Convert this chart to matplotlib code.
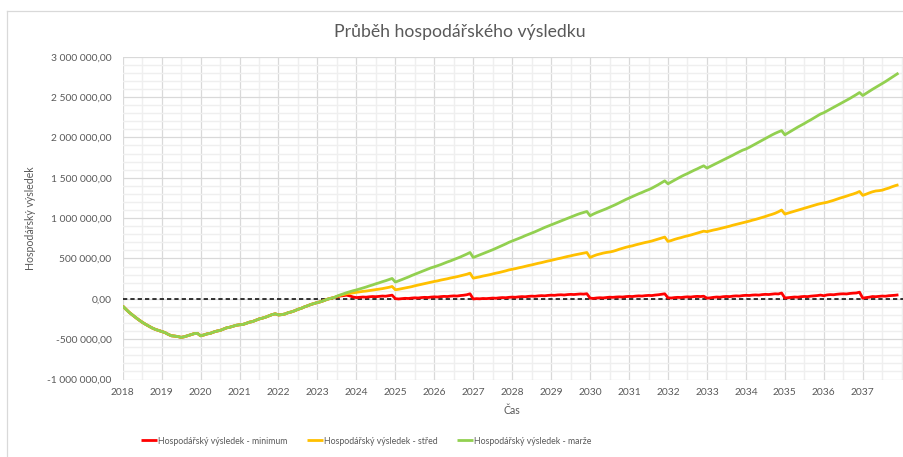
import numpy as np
import matplotlib.pyplot as plt
import matplotlib.ticker as mticker
from matplotlib.lines import Line2D

RED = "#FF0000"
YELLOW = "#FFC000"
GREEN = "#92D050"
TEXT = "#595959"
GRID = "#D9D9D9"
GRID_MINOR = "#EFEFEF"

plt.rcParams["font.family"] = ["Lato", "DejaVu Sans"]

# monthly values in thousands, Jan 2018 - Jun 2023 (all three series identical)
spolecny = [
    -90, -130, -168, -200, -232, -262, -290, -315, -338, -360, -378, -392,
    -405, -418, -440, -458, -462, -468, -478, -470, -458, -445, -432, -428,
    -458, -448, -435, -428, -412, -400, -392, -376, -360, -352, -340, -328,
    -322, -318, -305, -290, -282, -266, -250, -240, -228, -212, -196, -186,
    -200, -196, -188, -172, -162, -148, -130, -118, -100, -86, -70, -58,
    -46, -36, -22, -6, 5, 14,
]

# Jul 2023 - Dec 2037
minimum_dal = [
    24, 34, 40, 45, 35, 22,
    15, 18, 22, 20, 25, 28, 26, 30, 34, 32, 38, 45,
    2, -2, 2, 6, 4, 9, 12, 10, 15, 18, 16, 21,
    24, 22, 27, 30, 28, 33, 36, 34, 40, 44, 50, 62,
    -2, 2, 0, 4, 2, 6, 9, 7, 12, 15, 13, 18,
    21, 19, 24, 27, 25, 30, 33, 31, 36, 39, 37, 42,
    45, 43, 48, 50, 47, 52, 55, 53, 57, 60, 58, 63,
    8, 5, 10, 13, 11, 16, 20, 18, 22, 24, 22, 27,
    30, 28, 33, 36, 34, 39, 42, 40, 46, 50, 56, 62,
    12, 10, 15, 18, 16, 21, 24, 22, 27, 30, 28, 32,
    8, 12, 18, 22, 20, 26, 29, 27, 33, 36, 34, 40,
    43, 41, 46, 48, 46, 52, 55, 53, 58, 62, 60, 72,
    10, 14, 18, 22, 20, 26, 29, 27, 33, 36, 40, 46,
    38, 48, 52, 50, 56, 60, 62, 60, 66, 70, 72, 82,
    8, 15, 20, 28, 26, 30, 34, 32, 38, 41, 44, 49,
]

stred_dal = [
    30, 42, 52, 62, 68, 74,
    80, 86, 92, 96, 102, 108, 114, 120, 126, 134, 142, 153,
    112, 118, 126, 134, 142, 150, 161, 170, 178, 188, 196, 206,
    215, 222, 232, 240, 248, 258, 266, 274, 284, 294, 304, 318,
    256, 264, 272, 282, 290, 298, 308, 318, 326, 336, 346, 358,
    366, 374, 384, 392, 402, 412, 420, 430, 440, 448, 458, 468,
    476, 486, 496, 504, 514, 524, 532, 542, 550, 558, 566, 574,
    512, 530, 545, 556, 566, 574, 580, 588, 600, 614, 626, 638,
    648, 656, 668, 678, 688, 698, 706, 716, 728, 740, 752, 765,
    711, 722, 736, 748, 758, 770, 780, 790, 802, 814, 826, 838,
    832, 842, 852, 860, 870, 880, 890, 900, 912, 922, 932, 942,
    952, 962, 974, 984, 996, 1008, 1020, 1034, 1046, 1060, 1078, 1100,
    1050, 1062, 1074, 1086, 1098, 1110, 1122, 1134, 1146, 1158, 1170, 1180,
    1188, 1196, 1208, 1220, 1234, 1248, 1260, 1272, 1286, 1298, 1312, 1330,
    1282, 1296, 1312, 1326, 1336, 1340, 1346, 1360, 1372, 1388, 1402, 1413,
]

marze_dal = [
    32, 48, 62, 76, 88, 100,
    110, 122, 134, 146, 160, 172, 186, 198, 212, 224, 238, 252,
    207, 222, 238, 254, 270, 288, 304, 320, 336, 352, 368, 384,
    396, 410, 424, 440, 456, 470, 486, 502, 518, 536, 554, 574,
    512, 528, 544, 560, 576, 592, 608, 626, 644, 662, 680, 700,
    716, 732, 748, 764, 782, 798, 814, 830, 848, 866, 884, 900,
    916, 932, 948, 964, 980, 996, 1012, 1028, 1044, 1058, 1070, 1082,
    1029, 1050, 1068, 1084, 1100, 1116, 1134, 1152, 1170, 1190, 1210, 1230,
    1248, 1266, 1284, 1302, 1318, 1336, 1352, 1370, 1392, 1414, 1438, 1462,
    1425, 1448, 1470, 1492, 1514, 1534, 1552, 1572, 1592, 1610, 1630, 1648,
    1620, 1640, 1660, 1680, 1700, 1720, 1740, 1760, 1780, 1802, 1822, 1842,
    1856, 1876, 1898, 1920, 1942, 1964, 1986, 2008, 2030, 2050, 2068, 2084,
    2032, 2056, 2080, 2104, 2128, 2150, 2172, 2196, 2218, 2242, 2266, 2290,
    2306, 2328, 2350, 2372, 2394, 2416, 2438, 2460, 2482, 2506, 2530, 2556,
    2519, 2545, 2570, 2596, 2620, 2644, 2668, 2692, 2718, 2744, 2770, 2797,
]

nazvy = [
    "Hospodářský výsledek - minimum",
    "Hospodářský výsledek - střed",
    "Hospodářský výsledek - marže",
]
roky = list(range(2018, 2038))

minimum = np.array(spolecny + minimum_dal) * 1000.0
stred = np.array(spolecny + stred_dal) * 1000.0
marze = np.array(spolecny + marze_dal) * 1000.0
mesice = 2018 + np.arange(len(minimum)) / 12


def czk(v, _pos=None):
    return f"{v:,.2f}".replace(",", " ").replace(".", ",")


W, H = 904, 457
fig = plt.figure(figsize=(W / 100, H / 100), dpi=100)
left, right, top, bottom = 122.7, 904, 56.7, 379.5
ax = fig.add_axes([left / W, 1 - bottom / H, (right - left) / W, (bottom - top) / H])

ax.set_xlim(2018, 2018 + (right - left) / 38.95)
ax.set_ylim(-1_000_000, 3_000_000)

ax.xaxis.set_major_locator(mticker.FixedLocator(roky))
ax.xaxis.set_minor_locator(mticker.MultipleLocator(0.5))
ax.yaxis.set_major_locator(mticker.MultipleLocator(500_000))
ax.yaxis.set_minor_locator(mticker.MultipleLocator(100_000))
ax.yaxis.set_major_formatter(mticker.FuncFormatter(czk))
ax.xaxis.set_major_formatter(mticker.FormatStrFormatter("%d"))

ax.grid(which="minor", color=GRID_MINOR, lw=1.0, zorder=0)
ax.grid(which="major", color=GRID, lw=0.9, zorder=0)
ax.set_axisbelow(True)
for s in ax.spines.values():
    s.set_visible(False)
ax.tick_params(which="both", length=0, labelsize=7.4, labelcolor=TEXT)
ax.tick_params(axis="y", pad=8)
ax.tick_params(axis="x", pad=6)

ax.axhline(0, color="black", lw=1.1, dashes=(2.8, 2.0), zorder=1)

for data, col, name in zip([minimum, stred, marze], [RED, YELLOW, GREEN], nazvy):
    ax.plot(mesice, data, color=col, lw=2.0, label=name, zorder=3,
            solid_joinstyle="round", solid_capstyle="butt")

fig.text(460 / W, 1 - 32 / H, "Průběh hospodářského výsledku", ha="center", va="center",
         fontsize=12.7, color=TEXT)
fig.text(30 / W, 1 - 218 / H, "Hospodářský výsledek", ha="center", va="center",
         rotation=90, fontsize=7.6, color=TEXT)
fig.text(512 / W, 1 - 411 / H, "Čas", ha="center", va="center", fontsize=7.6, color=TEXT)

fig.legend(loc="center", bbox_to_anchor=(366 / W, 1 - 441 / H), ncol=3, frameon=False,
           fontsize=6.3, handlelength=1.85, handletextpad=0.1, columnspacing=2.2,
           labelcolor=TEXT)

# chart area border (cut off on right and bottom)
fig.add_artist(Line2D([7 / W, 7 / W], [0, 1 - 11 / H], transform=fig.transFigure,
                      color=GRID, lw=0.9))
fig.add_artist(Line2D([7 / W, 1], [1 - 11 / H, 1 - 11 / H], transform=fig.transFigure,
                      color=GRID, lw=0.9))

fig.savefig("out.png", dpi=100, facecolor="white")
